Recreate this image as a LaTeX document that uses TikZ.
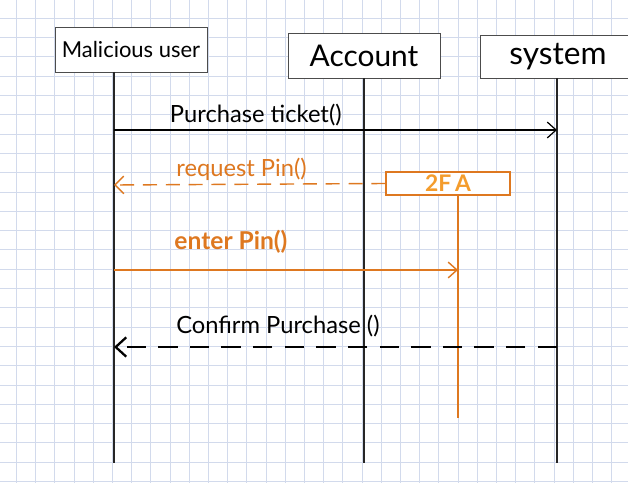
\documentclass[tikz,border=0pt]{standalone}
\usepackage{fontspec}
\setmainfont{Lato}
\usetikzlibrary{arrows.meta}

\definecolor{gridblue}{RGB}{210,218,236}
\definecolor{pinorange}{RGB}{222,120,32}
\definecolor{faorange}{RGB}{244,156,44}

\tikzset{
  actor/.style={rectangle, draw=black!70, line width=0.5pt, fill=white, font=\fontsize{12.5}{14}\selectfont},
  life/.style={draw=black!85, line width=0.6pt},
  call/.style={line width=0.7pt, -{Straight Barb[length=5pt, width=9pt]}},
  reply/.style={line width=1.3pt, dash pattern=on 11pt off 7pt, -{Straight Barb[length=6pt, width=11pt]}},
  lbl/.style={font=\fontsize{13.5}{15}\selectfont, inner sep=2pt}
}

\begin{document}
\begin{tikzpicture}[x=0.02cm, y=-0.02cm]
  % Paper and grid
  \useasboundingbox (0,0) rectangle (628,483);
  \clip (0,0) rectangle (628,483);
  \fill[white] (0,0) rectangle (628,483);
  \foreach \i in {0,...,32}
    \draw[gridblue, line width=0.5pt] ({16.5+19.2*\i},0) -- ++(0,483);
  \foreach \j in {0,...,25}
    \draw[gridblue, line width=0.5pt] (0,{18.3+19.3*\j}) -- ++(628,0);

  % Actors
  \node (user) [actor, minimum width=3.04cm, minimum height=0.9cm] at (131,49.5) {Malicious user};
  \node (account) [actor, minimum width=3.04cm, minimum height=0.9cm, font=\fontsize{17}{19}\selectfont] at (364,55.5) {Account\hspace{0.5cm}};
  \node (system) [actor, minimum width=3.1cm, minimum height=0.86cm, font=\fontsize{18}{20}\selectfont] at (558,56.5) {system\hspace{0.54cm}};

  % Lifelines
  \coordinate (u0) at (114,72);   \coordinate (uend) at (114,463);
  \coordinate (s0) at (557,78);   \coordinate (send) at (557,463);
  \draw[life] (u0) -- (uend);
  \draw[life] (account.south) -- (account.south |- uend);
  \draw[life] (s0) -- (send);

  % 2FA activation
  \node (fa) [rectangle, draw=pinorange, line width=0.7pt, fill=white, text=faorange,
    minimum width=2.48cm, minimum height=0.46cm, inner sep=0pt, font=\bfseries\fontsize{13}{14}\selectfont] at (448,183.5) {2F\,A};
  \coordinate (a0) at (458,195);  \coordinate (aend) at (458,418);
  \draw[pinorange, line width=0.7pt] (a0) -- (aend);

  % Messages
  \coordinate (u1) at (114,130);  \coordinate (s1) at (557,130);
  \draw[call] (u1) -- node[lbl, above, pos=0.32] {Purchase ticket()} (s1);

  \coordinate (u2) at (114,185);
  \draw[pinorange, line width=0.8pt, dash pattern=on 8pt off 5pt, -{Straight Barb[length=5pt, width=10pt]}]
    (fa.west) -- node[lbl, above, pos=0.53, text=pinorange] {request Pin()} (u2);

  \coordinate (u3) at (114,270);  \coordinate (a3) at (458,270);
  \draw[call, pinorange, line width=0.8pt] (u3) -- node[lbl, above=7pt, pos=0.34, text=pinorange, font=\bfseries\fontsize{14}{16}\selectfont] {enter Pin()} (a3);

  \coordinate (s4) at (557,347);  \coordinate (u4) at (114,347);
  \draw[reply] (s4) -- node[lbl, above=3pt, pos=0.63] {Confirm Purchase ()} (u4);
\end{tikzpicture}
\end{document}
